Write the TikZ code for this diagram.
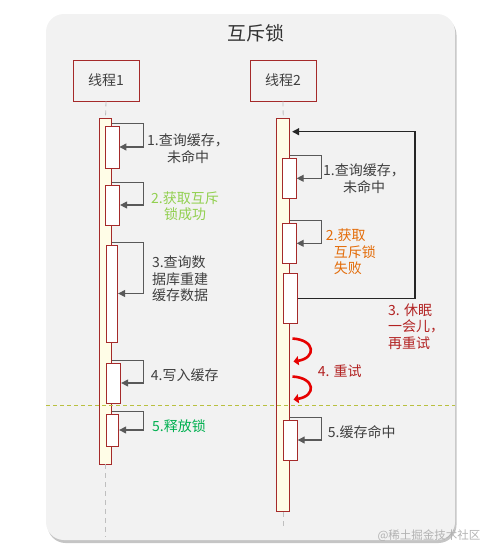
\documentclass[tikz,border=0pt]{standalone}
\usepackage{fontspec}
\setmainfont{Noto Sans CJK SC}
\usetikzlibrary{arrows.meta,shadows}

\definecolor{panelbg}{HTML}{F2F2F2}
\definecolor{boxred}{HTML}{A52A2A}
\definecolor{barfill}{HTML}{FFFDE7}
\definecolor{arrgray}{HTML}{595959}
\definecolor{txtgray}{HTML}{404040}
\definecolor{lightgreen}{HTML}{92D050}
\definecolor{okgreen}{HTML}{00B050}
\definecolor{failorange}{HTML}{E36C09}
\definecolor{darkred}{HTML}{B22222}
\definecolor{curlred}{HTML}{E60000}
\definecolor{sepgreen}{HTML}{B9C040}
\definecolor{lifegray}{HTML}{BFBFBF}

\begin{document}
\begin{tikzpicture}[x=1pt,y=-1pt,
		thread/.style={draw=boxred, line width=0.8pt, fill=panelbg, minimum width=66pt, minimum height=41pt, inner sep=0pt, text=txtgray, font=\fontsize{14}{16}\selectfont},
		lifebar/.style={draw=boxred, line width=0.8pt, fill=barfill, inner sep=0pt},
		act/.style={draw=boxred, line width=0.8pt, fill=white, inner sep=0pt},
		selfarr/.style={draw=arrgray, line width=1.2pt, -{Triangle[length=7pt,width=7pt]}},
		looparr/.style={draw=black!85, line width=1.2pt, -{Triangle[length=7pt,width=7pt]}},
		curl/.style={draw=curlred, line width=2.6pt, -{Triangle[length=5pt,width=9pt]}},
		lifeline/.style={draw=lifegray, line width=0.8pt, dash pattern=on 5pt off 4pt},
		note/.style={font=\fontsize{14}{16.5}\selectfont, text=txtgray, inner sep=0pt}]
		% Page and panel
		\useasboundingbox (0,0) rectangle (492,557);
		\fill[panelbg, rounded corners=18pt, drop shadow={shadow xshift=1.5pt, shadow yshift=-3pt, fill=black!45, opacity=0.5}] (46,14) rectangle (455,540);
		\node[font=\fontsize{19}{22}\selectfont, text=black!80] (title) at (256,33) {互斥锁};
		
		% Threads
		\node[thread] (th1) at (106,80.5) {线程1};
		\node[thread] (th2) at (283,80.5) {线程2};
		
		% Lifelines and bars
		\node[lifebar, minimum width=12.4pt, minimum height=346pt] (bar1) at (105.5,291) {};
		\node[lifebar, minimum width=13pt, minimum height=393.4pt] (bar2) at (283.2,315) {};
		\coordinate (end1) at (105.5,537);
		\coordinate (end2) at (283.2,527);
		\draw[lifeline] (th1.south) -- (bar1.north);
		\draw[lifeline] (bar1.south) -- (end1);
		\draw[lifeline] (th2.south) -- (bar2.north);
		\draw[lifeline] (bar2.south) -- (end2);
		
		% Activations, thread 1
		\node[act, minimum width=13.7pt, minimum height=42pt] (a1) at (112.2,147) {};
		\node[act, minimum width=14.4pt, minimum height=40pt] (a2) at (112.5,205) {};
		\node[act, minimum width=11.7pt, minimum height=97pt] (a3) at (111.9,293.5) {};
		\node[act, minimum width=14.7pt, minimum height=40pt] (a4) at (113.4,383) {};
		\node[act, minimum width=12.7pt, minimum height=32pt] (a5) at (112.4,430) {};
		
		% Activations, thread 2
		\node[act, minimum width=14pt, minimum height=40pt] (b1) at (289.3,178.3) {};
		\node[act, minimum width=14pt, minimum height=40pt] (b2) at (289.3,243.3) {};
		\node[act, minimum width=14pt, minimum height=50pt] (b3) at (290.3,298.3) {};
		\node[act, minimum width=14pt, minimum height=40pt] (b5) at (290.3,440) {};
		
		% Self calls
		\foreach \a in {a1,a2,a3,a4,a5}
		\draw[selfarr] ([yshift=2.5pt]\a.north -| bar1.east) -- ++(31,0) |- (\a.east);
		\foreach \b in {b1,b2,b5}
		\draw[selfarr] ([yshift=2.5pt]\b.north -| bar2.east) -- ++(31,0) |- (\b.east);
		
		% Retry loop
		\coordinate (loopc) at (415,131.7);
		\draw[looparr] (b3.east) -| (loopc) -- ([xshift=2pt]bar2.east |- loopc);
		
		% Sleep and retry
		\coordinate (c1s) at (292.5,338.5);
		\coordinate (c1e) at (293.5,361.5);
		\coordinate (c2s) at (292.5,376.5);
		\coordinate (c2e) at (293.5,399.5);
		\draw[curl] (c1s) .. controls (316,340) and (316,358) .. (c1e);
		\draw[curl] (c2s) .. controls (316,378) and (316,396) .. (c2e);
		
		% Separator
		\coordinate (sepL) at (46,405);
		\coordinate (sepR) at (455,405);
		\draw[sepgreen, line width=0.9pt, dash pattern=on 4pt off 3pt] (sepL) -- (sepR);
		
		% Labels, thread 1
		\node[note, align=center] (l11) at (188,148.7) {1.查询缓存，\\未命中};
		\node[note, align=center, text=lightgreen] (l12) at (185,206) {2.获取互斥\\锁成功};
		\node[note, align=left] (l13) at (180,279) {3.查询数\\据库重建\\缓存数据};
		\node[note, anchor=west] (l14) at (150.7,375) {4.写入缓存};
		\node[note, anchor=west, text=okgreen] (l15) at (152,425.7) {5.释放锁};
		
		% Labels, thread 2
		\node[note, align=center] (l21) at (364,178.5) {1.查询缓存，\\未命中};
		\node[note, align=left, anchor=west, text=failorange] (l22) at (325.7,251.7) {2.获取\\\hspace*{8pt}互斥锁\\\hspace*{8pt}失败};
		\node[note, align=left, anchor=west, text=darkred] (l23) at (388,326.7) {3. 休眠\\一会儿，\\再重试};
		\node[note, anchor=west, text=darkred] (l24) at (317.7,370.7) {4. 重试};
		\node[note, anchor=west] (l25) at (327.7,431.7) {5.缓存命中};
		
		% Watermark
		\node[font=\fontsize{11.5}{13}\selectfont, text=black!30] (mark) at (429,536) {@稀土掘金技术社区};
	\end{tikzpicture}
\end{document}
